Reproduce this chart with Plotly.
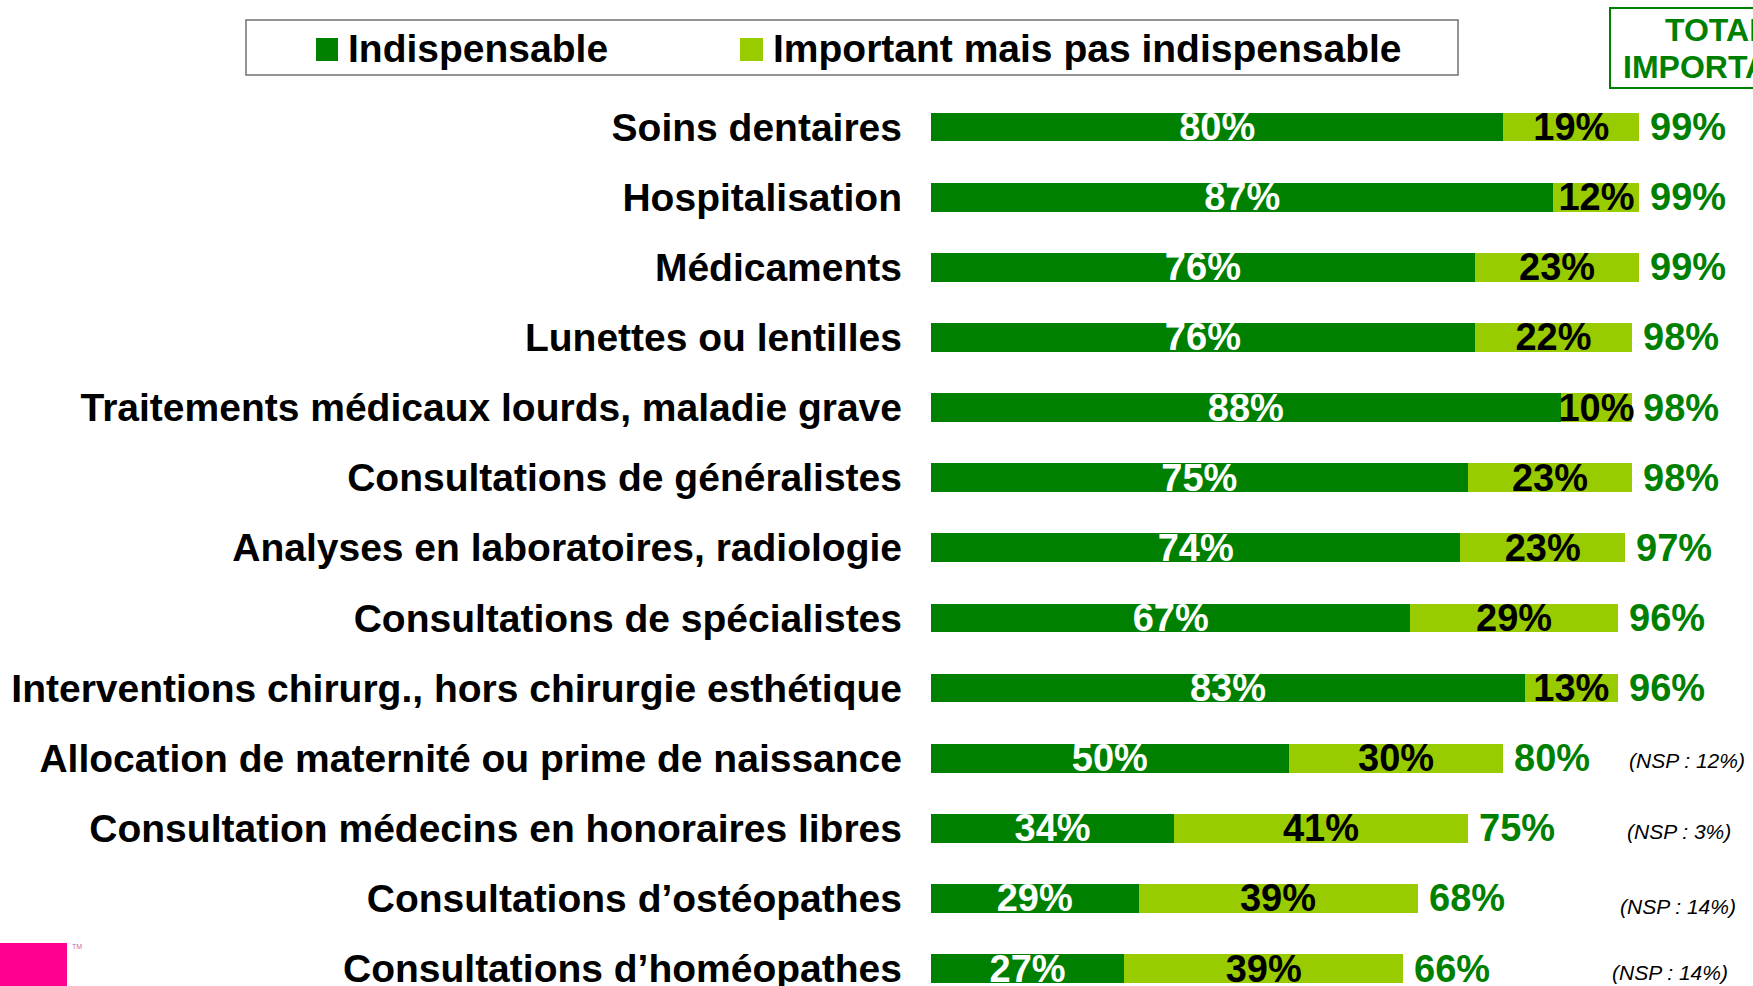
import plotly.graph_objects as go

categories = [
    "Soins dentaires",
    "Hospitalisation",
    "Médicaments",
    "Lunettes ou lentilles",
    "Traitements médicaux lourds, maladie grave",
    "Consultations de généralistes",
    "Analyses en laboratoires, radiologie",
    "Consultations de spécialistes",
    "Interventions chirurg., hors chirurgie esthétique",
    "Allocation de maternité ou prime de naissance",
    "Consultation médecins en honoraires libres",
    "Consultations d’ostéopathes",
    "Consultations d’homéopathes",
]
indispensable = [80, 87, 76, 76, 88, 75, 74, 67, 83, 50, 34, 29, 27]
important = [19, 12, 23, 22, 10, 23, 23, 29, 13, 30, 41, 39, 39]
total = [99, 99, 99, 98, 98, 98, 97, 96, 96, 80, 75, 68, 66]
nsp = [None, None, None, None, None, None, None, None, None, 12, 3, 14, 14]

DARK = "#008000"
LIGHT = "#99CC00"
FONT = "Liberation Sans, Arial, sans-serif"

W, H = 1753, 986
ML, MT = 931, 92
PW, PH = W - ML, H - MT
PX_PER_PCT = 7.155
ROW = 70.12


def px(x):
    return (x - ML) / PW


def py(y):
    return (H - y) / PH


fig = go.Figure()
fig.add_trace(go.Bar(
    y=categories, x=indispensable, orientation="h", name="Indispensable",
    marker=dict(color=DARK, line=dict(width=0)),
    text=[f"{v}%" for v in indispensable], textposition="inside",
    insidetextanchor="middle", textangle=0, constraintext="none",
    insidetextfont=dict(family=FONT, size=38, color="white", weight="bold"),
    showlegend=False,
))
fig.add_trace(go.Bar(
    y=categories, x=important, orientation="h", name="Important mais pas indispensable",
    marker=dict(color=LIGHT, line=dict(width=0)),
    text=[f"{v}%" for v in important], textposition="inside",
    insidetextanchor="middle", textangle=0, constraintext="none",
    insidetextfont=dict(family=FONT, size=38, color="black", weight="bold"),
    showlegend=False,
))

annotations = []
for c, t in zip(categories, total):
    annotations.append(dict(
        x=t, y=c, xref="x", yref="y", text=f"{t}%", showarrow=False,
        xanchor="left", yanchor="middle", xshift=9,
        font=dict(family=FONT, size=38, color=DARK, weight="bold"),
    ))

nsp_x = [None] * 9 + [1687, 1679, 1678, 1670]
nsp_shift = [None] * 9 + [-2, -3, -8, -4]
for c, n, xx, ys in zip(categories, nsp, nsp_x, nsp_shift):
    if n is None:
        continue
    annotations.append(dict(
        x=px(xx), y=c, xref="paper", yref="y", text=f"(NSP : {n}%)",
        showarrow=False, xanchor="center", yanchor="middle", yshift=ys,
        font=dict(family=FONT, size=21, color="black", style="italic"),
    ))

# legend (manual)
annotations.append(dict(
    x=px(346), y=py(49), xref="paper", yref="paper", text="Indispensable",
    showarrow=False, xanchor="left", yanchor="middle",
    font=dict(family=FONT, size=39, color="black", weight="bold"),
))
annotations.append(dict(
    x=px(771), y=py(49), xref="paper", yref="paper",
    text="Important mais pas indispensable",
    showarrow=False, xanchor="left", yanchor="middle",
    font=dict(family=FONT, size=39, color="black", weight="bold"),
))
# TOTAL IMPORTANT header
annotations.append(dict(
    x=px(1717), y=py(30), xref="paper", yref="paper", text="TOTAL",
    showarrow=False, xanchor="center", yanchor="middle",
    font=dict(family=FONT, size=32, color=DARK, weight="bold"),
))
annotations.append(dict(
    x=px(1717), y=py(67), xref="paper", yref="paper", text="IMPORTANT",
    showarrow=False, xanchor="center", yanchor="middle",
    font=dict(family=FONT, size=32, color=DARK, weight="bold"),
))
annotations.append(dict(
    x=px(70), y=py(941), xref="paper", yref="paper", text="TM",
    showarrow=False, xanchor="left", yanchor="top",
    font=dict(family=FONT, size=7, color="#d06aa0"),
))

shapes = [
    dict(type="rect", xref="paper", yref="paper", x0=px(246), x1=px(1458),
         y0=py(20), y1=py(75), line=dict(color="#707070", width=1.5),
         fillcolor="rgba(0,0,0,0)"),
    dict(type="rect", xref="paper", yref="paper", x0=px(316), x1=px(338),
         y0=py(38), y1=py(61), line=dict(width=0), fillcolor=DARK),
    dict(type="rect", xref="paper", yref="paper", x0=px(740), x1=px(763),
         y0=py(38), y1=py(61), line=dict(width=0), fillcolor=LIGHT),
    dict(type="rect", xref="paper", yref="paper", x0=px(1610), x1=px(1824),
         y0=py(8), y1=py(88), line=dict(color=DARK, width=2),
         fillcolor="rgba(0,0,0,0)"),
    dict(type="rect", xref="paper", yref="paper", x0=px(0), x1=px(67),
         y0=py(943), y1=py(990), line=dict(width=0), fillcolor="#FF0090"),
]

fig.update_layout(
    template="none",
    width=W, height=H,
    margin=dict(l=ML, r=0, t=MT, b=0, pad=0),
    barmode="stack", bargap=0.59,
    paper_bgcolor="white", plot_bgcolor="white",
    showlegend=False,
    xaxis=dict(range=[0, PW / PX_PER_PCT], visible=False, automargin=False),
    yaxis=dict(
        type="category", categoryorder="array", categoryarray=categories,
        range=[-0.5 + PH / ROW, -0.5], showgrid=False, zeroline=False,
        showline=False, ticks="", automargin=False, ticklabelstandoff=28,
        tickfont=dict(family=FONT, size=39, color="black", weight="bold"),
    ),
    annotations=annotations,
    shapes=shapes,
)

fig.write_html(
    "out.html",
    config={"displayModeBar": False},
    post_script="document.body.style.margin='0';document.body.style.overflow='hidden';",
)
